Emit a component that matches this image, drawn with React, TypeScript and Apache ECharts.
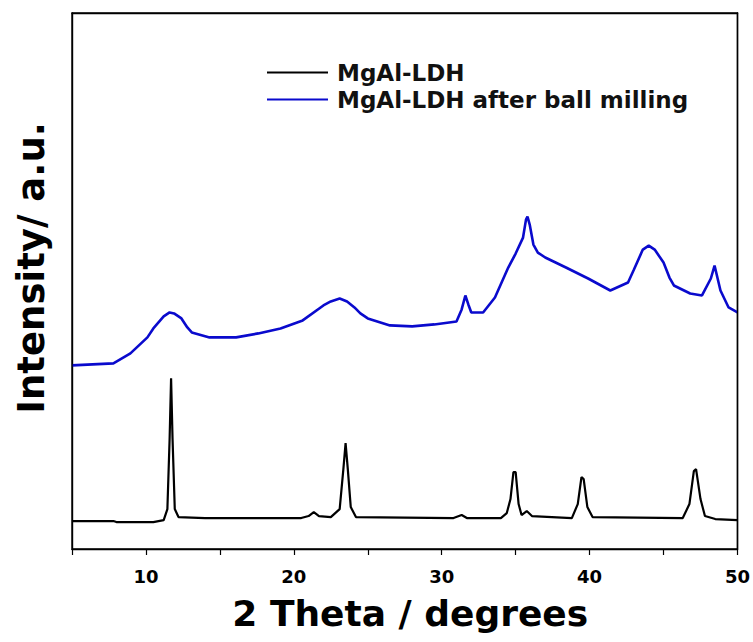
import React, { useEffect, useRef } from "react";
import * as echarts from "echarts";

const seriesNames = ["MgAl-LDH", "MgAl-LDH after ball milling"];

// 2θ (degrees) and intensity (a.u.) pairs
const ldhTheta = [5, 7.8, 8, 10.5, 11.2, 11.45, 11.6, 11.7, 11.8, 11.95, 12.2, 14, 20.5, 21.0, 21.35, 21.7, 22.5, 23.1, 23.35, 23.5, 23.65, 23.85, 24.2, 30.8, 31.35, 31.7, 34.0, 34.4, 34.65, 34.85, 35.0, 35.2, 35.4, 35.75, 36.1, 38.8, 39.2, 39.45, 39.6, 39.85, 40.2, 46.3, 46.75, 47.05, 47.2, 47.5, 47.8, 48.5, 50];
const ldhIntensity = [28, 28, 27, 27, 29, 40, 110, 171, 110, 40, 32, 31, 31, 33, 37, 33, 32, 40, 80, 106, 80, 42, 32, 31, 34, 31, 31, 36, 50, 77, 77, 45, 34, 38, 33, 31, 45, 72, 70, 42, 32, 31, 45, 78, 80, 50, 33, 30, 29];

const milledTheta = [5, 7.8, 8.95, 10.1, 10.5, 11.2, 11.6, 11.9, 12.4, 12.8, 13.1, 14.3, 16.1, 17.6, 19.1, 20.6, 22.0, 22.5, 23.1, 23.6, 24.1, 24.5, 25.0, 26.5, 28.0, 29.5, 31.0, 31.35, 31.6, 31.8, 32.0, 32.8, 33.6, 34.5, 35.0, 35.5, 35.7, 35.8, 35.95, 36.2, 36.5, 37.0, 38.4, 39.9, 41.4, 42.6, 43.0, 43.6, 44.0, 44.4, 45.0, 45.4, 45.7, 46.8, 47.6, 48.2, 48.45, 48.85, 49.4, 50];
const milledIntensity = [184, 186, 196, 212, 221, 233, 237, 236, 231, 222, 217, 212, 212, 216, 221, 229, 244, 248, 251, 248, 242, 236, 231, 224, 223, 225, 228, 240, 254, 245, 237, 237, 252, 282, 296, 312, 330, 333, 325, 305, 297, 292, 282, 271, 259, 267, 280, 300, 304, 300, 287, 272, 264, 256, 254, 271, 284, 259, 242, 237];

const xMin = 5;
const xMax = 50;
const xInterval = 5;
const yMin = 0;
const yMax = 537;

const FONT = "'DejaVu Sans', sans-serif";

export default function App() {
  const ref = useRef<HTMLDivElement>(null);
  useEffect(() => {
    if (!ref.current) return;
    const chart = echarts.init(ref.current, null, { renderer: "svg" });
    const ldh = ldhTheta.map((t, i) => [t, ldhIntensity[i]]);
    const milled = milledTheta.map((t, i) => [t, milledIntensity[i]]);
    const frameLine = () => ({ show: true, onZero: false, lineStyle: { color: "#000", width: 1.4 } });
    chart.setOption({
      animation: false,
      backgroundColor: "#fff",
      grid: {
        left: 72,
        right: 14,
        top: 13,
        bottom: 93,
        show: true,
        z: 5,
        borderColor: "#000",
        borderWidth: 1.4,
        backgroundColor: "rgba(0,0,0,0)",
      },
      legend: {
        orient: "vertical",
        left: 267,
        top: 61,
        padding: 0,
        itemWidth: 61,
        itemHeight: 14,
        itemGap: 4,
        icon: "path://M0,6 L61,6 L61,8 L0,8 Z",
        textStyle: {
          fontFamily: FONT,
          fontWeight: "bold",
          fontSize: 23,
          lineHeight: 23,
          color: "#111",
          padding: [0, 0, 0, 4],
        },
        data: seriesNames,
      },
      xAxis: [
        {
          type: "value",
          min: xMin,
          max: xMax,
          interval: xInterval,
          name: "2 Theta / degrees",
          nameLocation: "middle",
          nameGap: 46,
          nameTextStyle: {
            fontFamily: FONT,
            fontWeight: "bold",
            fontSize: 36,
            color: "#000",
            padding: [0, 0, 0, 11],
          },
          axisLine: frameLine(),
          axisTick: { show: true, inside: false, length: 6, lineStyle: { color: "#000", width: 1.2 } },
          splitLine: { show: false },
          axisLabel: {
            margin: 18,
            fontFamily: FONT,
            fontWeight: "bold",
            fontSize: 18,
            color: "#000",
            formatter: (v: number) => (v % 10 === 0 ? String(v) : ""),
          },
        },
        {
          type: "value",
          position: "top",
          min: xMin,
          max: xMax,
          interval: xInterval,
          axisLine: frameLine(),
          axisTick: { show: false },
          axisLabel: { show: false },
          splitLine: { show: false },
        },
      ],
      yAxis: [
        {
          type: "value",
          min: yMin,
          max: yMax,
          name: "Intensity/ a.u.",
          nameLocation: "middle",
          nameGap: 22,
          nameTextStyle: {
            fontFamily: FONT,
            fontWeight: "bold",
            fontSize: 37,
            color: "#000",
            padding: [0, 0, 0, 26],
          },
          axisLine: frameLine(),
          axisTick: { show: false },
          axisLabel: { show: false },
          splitLine: { show: false },
        },
        {
          type: "value",
          position: "right",
          min: yMin,
          max: yMax,
          axisLine: frameLine(),
          axisTick: { show: false },
          axisLabel: { show: false },
          splitLine: { show: false },
        },
      ],
      series: [
        {
          name: seriesNames[0],
          type: "line",
          data: ldh,
          symbol: "none",
          lineStyle: { color: "#000", width: 2.2 },
          itemStyle: { color: "#000" },
        },
        {
          name: seriesNames[1],
          type: "line",
          data: milled,
          symbol: "none",
          lineStyle: { color: "#0a0acd", width: 2.6 },
          itemStyle: { color: "#0a0acd" },
        },
      ],
    });
    return () => chart.dispose();
  }, []);
  return <div ref={ref} style={{ width: 753, height: 642, position: "absolute", left: 0, top: 0 }} />;
}
